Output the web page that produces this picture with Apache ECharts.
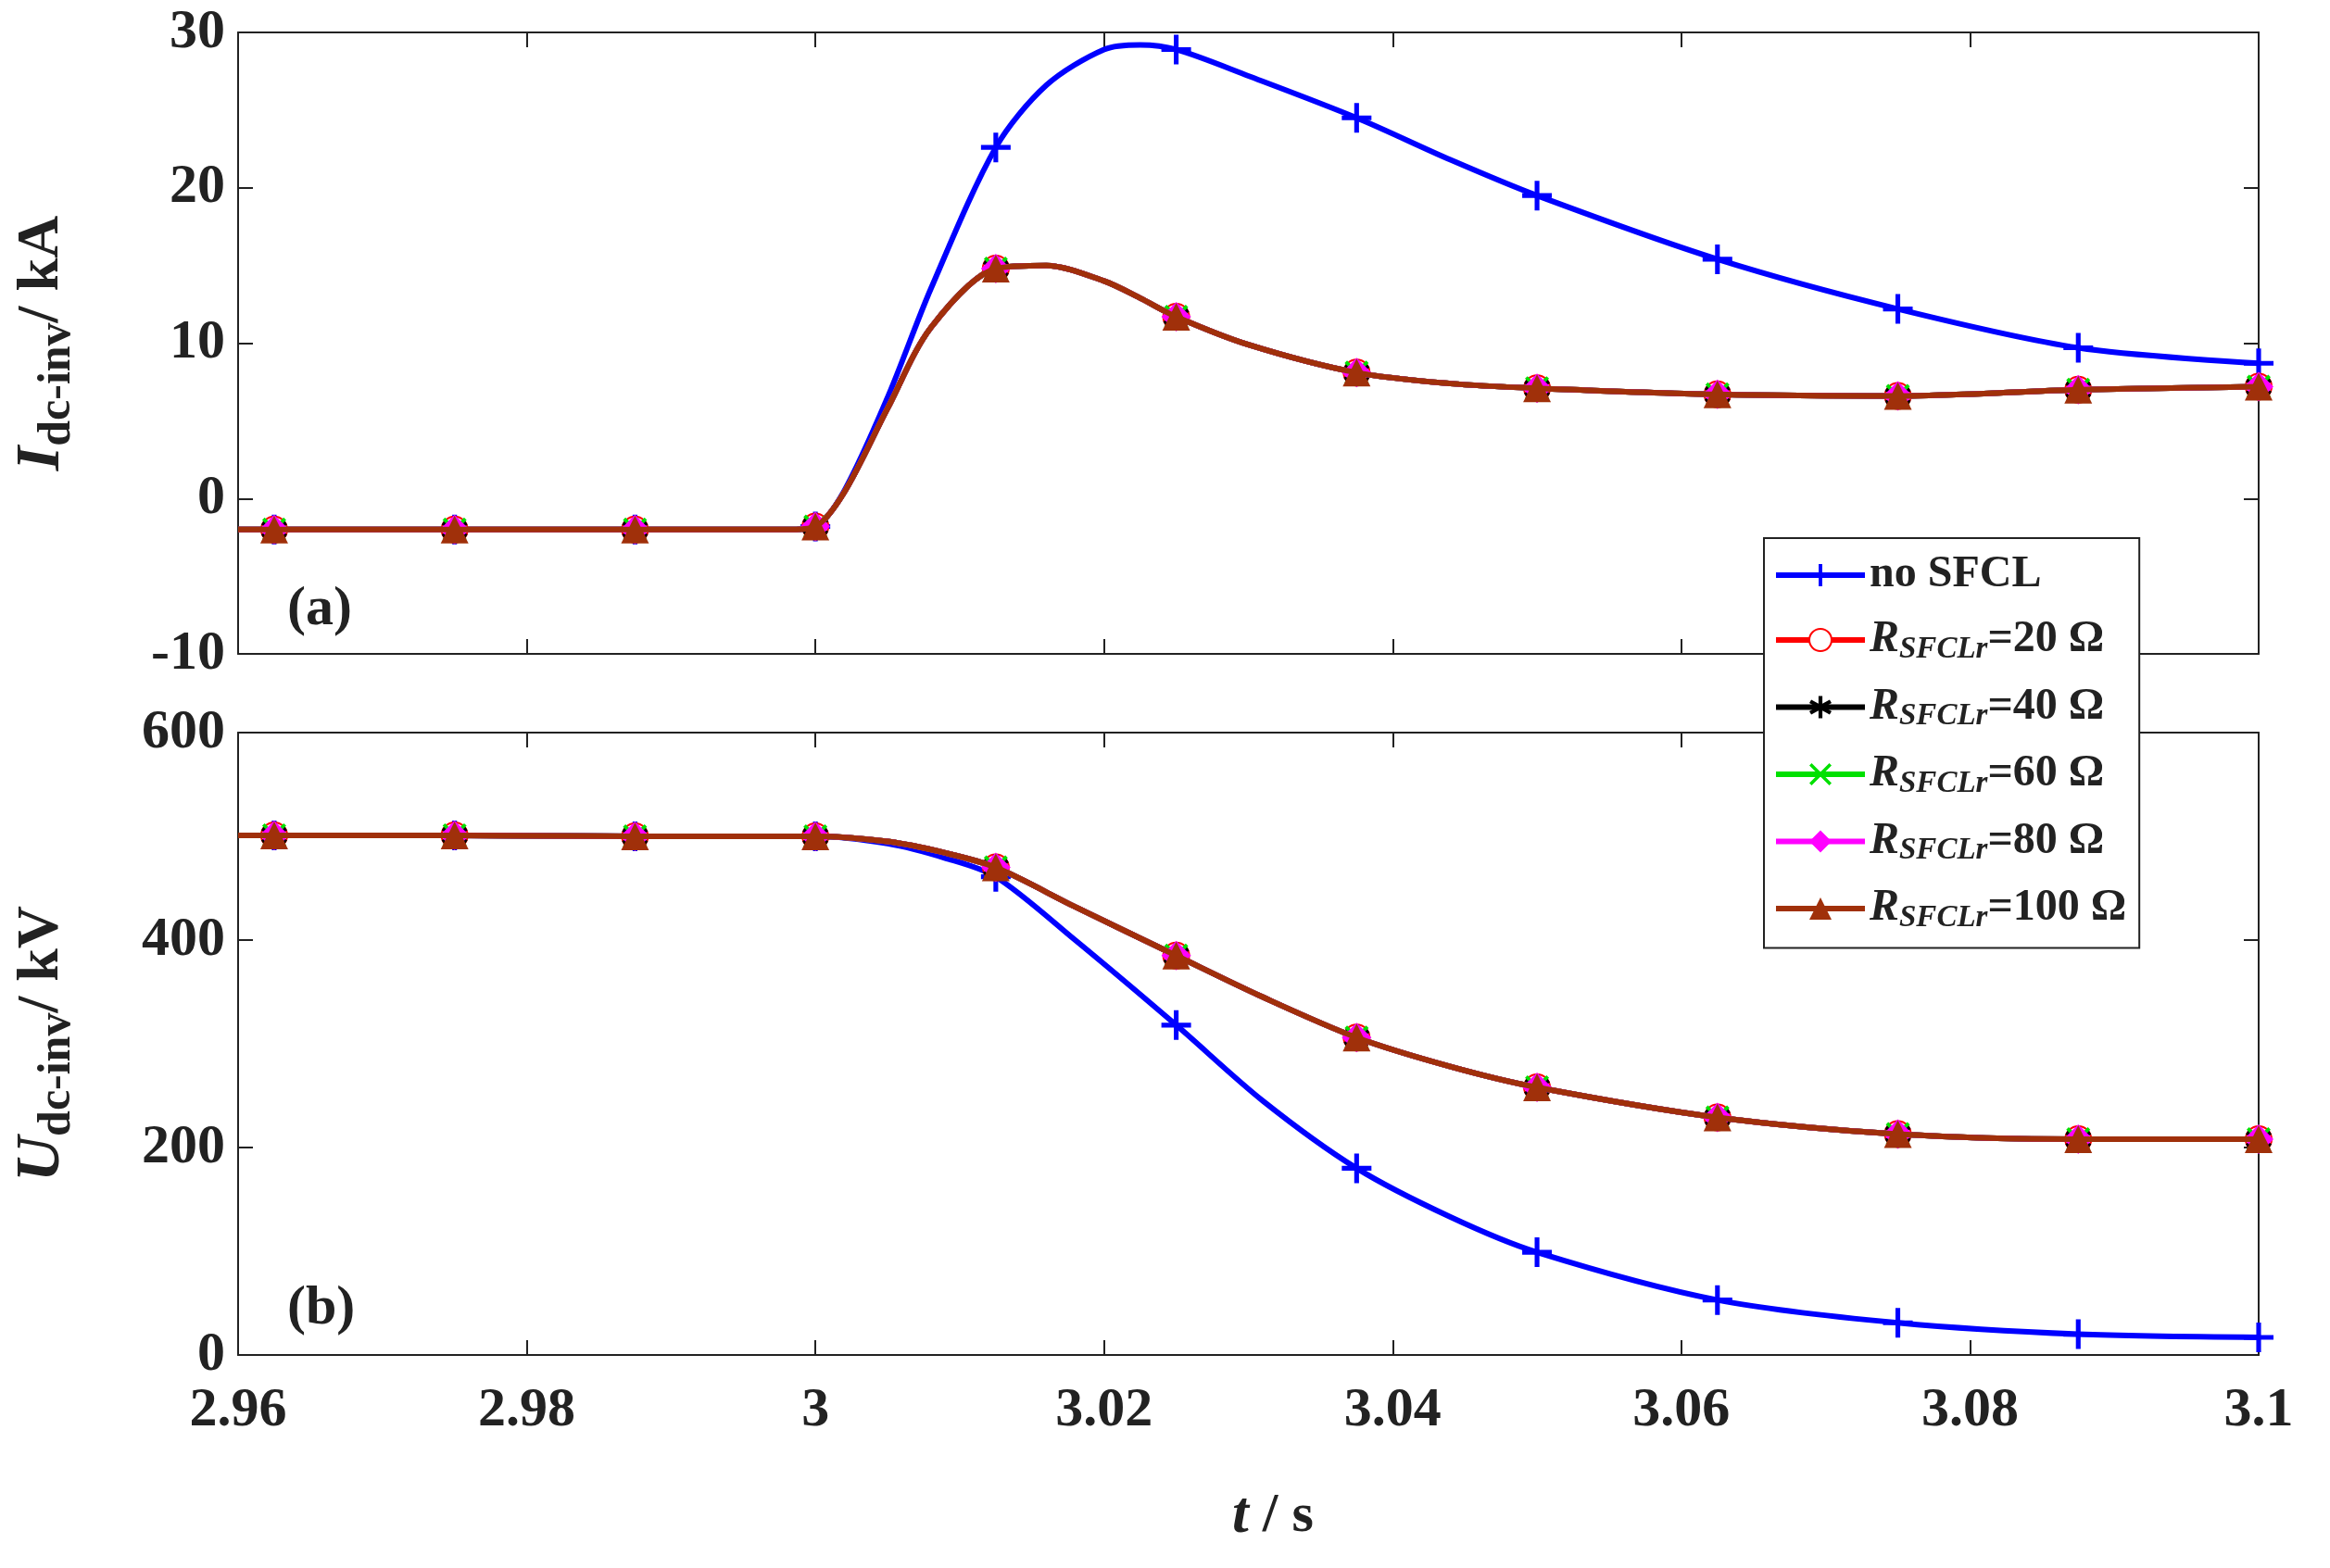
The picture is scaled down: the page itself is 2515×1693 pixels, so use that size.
<!DOCTYPE html>
<html><head><meta charset="utf-8">
<script src="https://cdn.jsdelivr.net/npm/echarts@6/dist/echarts.min.js"></script>
<style>html,body{margin:0;background:#fff}#c{width:2515px;height:1693px}</style>
</head><body><div id="c"></div>
<script>
// marker times
var markT = [2.9625, 2.975, 2.9875, 3.0, 3.0125, 3.025, 3.0375, 3.05, 3.0625, 3.075, 3.0875, 3.1];
// time grid for the curves
var tIdc  = [2.96, 2.9625, 2.975, 2.9875, 2.998, 3.0, 3.002, 3.005, 3.008, 3.0125, 3.016, 3.02, 3.0225, 3.025, 3.03, 3.0375, 3.044, 3.05, 3.0625, 3.075, 3.0875, 3.1];
var idcNoSfcl = [-2, -2, -2, -2, -2, -1.8, 0.5, 6.5, 13.5, 22.6, 26.6, 28.9, 29.2, 28.9, 27.2, 24.5, 21.8, 19.5, 15.4, 12.2, 9.7, 8.7];
var idcSfcl   = [-2, -2, -2, -2, -2, -1.8, 0.4, 5.8, 11.0, 14.8, 15.0, 14.0, 12.9, 11.7, 9.9, 8.1, 7.4, 7.1, 6.7, 6.6, 7.0, 7.2];
var tUdc  = [2.96, 2.9625, 2.975, 2.9875, 3.0, 3.005, 3.009, 3.0125, 3.018, 3.025, 3.031, 3.0375, 3.044, 3.05, 3.0625, 3.075, 3.0875, 3.1];
var udcNoSfcl = [501, 501, 501, 500, 500, 493, 479, 461, 400, 318, 245, 180, 133, 99, 53, 31, 20, 17];
var udcSfcl   = [501, 501, 501, 500, 500, 495, 484, 470, 432, 385, 345, 306, 278, 258, 229, 213, 208, 208];
var legendNames = ['no SFCL', 'R20', 'R40', 'R60', 'R80', 'R100'];
var legendOhm = {R20: '20', R40: '40', R60: '60', R80: '80', R100: '100'};

function isMark(t) { return markT.some(function (m) { return Math.abs(m - t) < 1e-6; }); }
function pts(ts, ys) {
    return ts.map(function (t, i) {
        return isMark(t) ? {value: [t, ys[i]]} : {value: [t, ys[i]], symbol: 'none'};
    });
}
var plus = 'path://M42,0H58V42H100V58H58V100H42V58H0V42H42Z';
var star = 'path://M42,0H58V34L88,17L96,31L66,50L96,69L88,83L58,66V100H42V66L12,83L4,69L34,50L4,31L12,17L42,34Z';
var cross = 'path://M12,2L50,40L88,2L98,12L60,50L98,88L88,98L50,60L12,98L2,88L40,50L2,12Z';

var styles = [
    {name: 'no SFCL', color: '#0000ff', symbol: plus, size: 32},
    {name: 'R20', color: '#ff0000', symbol: 'emptyCircle', size: 28},
    {name: 'R40', color: '#000000', symbol: star, size: 28},
    {name: 'R60', color: '#00e000', symbol: cross, size: 26},
    {name: 'R80', color: '#ff00ff', symbol: 'diamond', size: 32},
    {name: 'R100', color: '#a0300a', symbol: 'triangle', size: 30}
];
var series = [];
styles.forEach(function (s, k) {
    [0, 1].forEach(function (g) {
        var ys = g === 0 ? (k === 0 ? idcNoSfcl : idcSfcl) : (k === 0 ? udcNoSfcl : udcSfcl);
        var ts = g === 0 ? tIdc : tUdc;
        series.push({
            name: s.name, type: 'line', xAxisIndex: g * 2, yAxisIndex: g * 2,
            data: pts(ts, ys), smooth: 0.3, symbol: s.symbol, symbolSize: s.size,
            showAllSymbol: true, animation: false,
            lineStyle: {color: s.color, width: 6},
            itemStyle: {color: s.color, borderColor: s.color, borderWidth: s.symbol === 'emptyCircle' ? 5 : 0},
            z: 2 + k
        });
    });
});

var font = 'Liberation Serif';
var lbl = {fontFamily: font, fontWeight: 'bold', fontSize: 60, color: '#222'};
function xAx(grid, show, pos) {
    return {type: 'value', gridIndex: grid, min: 2.96, max: 3.1, interval: 0.02, position: pos,
        axisLine: {show: true, onZero: false, lineStyle: {color: '#222', width: 2}},
        axisTick: {show: true, inside: true, length: 16, lineStyle: {color: '#222', width: 2}},
        splitLine: {show: false},
        axisLabel: Object.assign({show: show, margin: 30,
            formatter: function (v) { return String(+v.toFixed(2)); }}, lbl)};
}
function yAx(grid, min, max, iv, show, pos, name) {
    return {type: 'value', gridIndex: grid, min: min, max: max, interval: iv, position: pos,
        name: name, nameLocation: 'middle', nameGap: 170, nameRotate: 90,
        nameTextStyle: {rich: {
            a: {fontFamily: font, fontWeight: 'bold', fontStyle: 'italic', fontSize: 68, color: '#222'},
            b: {fontFamily: font, fontWeight: 'bold', fontSize: 50, color: '#222', verticalAlign: 'bottom', padding: [34, 0, 0, 0]},
            c: {fontFamily: font, fontWeight: 'bold', fontSize: 64, color: '#222'}}},
        axisLine: {show: true, onZero: false, lineStyle: {color: '#222', width: 2}},
        axisTick: {show: true, inside: true, length: 16, lineStyle: {color: '#222', width: 2}},
        splitLine: {show: false},
        axisLabel: Object.assign({show: show, margin: 14}, lbl)};
}

var chart = echarts.init(document.getElementById('c'));
chart.setOption({
    backgroundColor: '#fff',
    grid: [
        {left: 257, right: 77, top: 35, height: 671},
        {left: 257, right: 77, top: 791, height: 672}
    ],
    xAxis: [xAx(0, false, 'bottom'), xAx(0, false, 'top'), xAx(1, true, 'bottom'), xAx(1, false, 'top')],
    yAxis: [
        yAx(0, -10, 30, 10, true, 'left', '{a|I}{b|dc-inv}{c|/ kA}'),
        yAx(0, -10, 30, 10, false, 'right', ''),
        yAx(1, 0, 600, 200, true, 'left', '{a|U}{b|dc-inv}{c|/ kV}'),
        yAx(1, 0, 600, 200, false, 'right', '')
    ],
    legend: {
        data: legendNames, orient: 'vertical', left: 1904, top: 581, itemGap: 22,
        padding: [16, 14, 16, 10], backgroundColor: '#fff', borderColor: '#222', borderWidth: 2,
        itemWidth: 96, itemHeight: 30, z: 20,
        lineStyle: {width: 6},
        formatter: function (n) {
            return n === 'no SFCL' ? '{t|no SFCL}' : '{r|R}{s|SFCLr}{t|=' + legendOhm[n] + ' Ω}';
        },
        textStyle: {rich: {
            t: {fontFamily: font, fontWeight: 'bold', fontSize: 48, color: '#222'},
            r: {fontFamily: font, fontWeight: 'bold', fontStyle: 'italic', fontSize: 48, color: '#222'},
            s: {fontFamily: font, fontWeight: 'bold', fontStyle: 'italic', fontSize: 33, color: '#222', verticalAlign: 'bottom', padding: [20, 0, 0, 0]}
        }}
    },
    graphic: [
        {type: 'text', left: 310, top: 628, style: {text: '(a)', font: 'bold 60px "Liberation Serif"', fill: '#222'}},
        {type: 'text', left: 310, top: 1383, style: {text: '(b)', font: 'bold 60px "Liberation Serif"', fill: '#222'}},
        {type: 'text', left: 1330, top: 1605, style: {rich: {
            a: {font: 'italic bold 64px "Liberation Serif"', fill: '#222'},
            b: {font: 'bold 60px "Liberation Serif"', fill: '#222'}}, text: '{a|t}{b| / s}'}}
    ],
    series: series
});
</script>
</body></html>
